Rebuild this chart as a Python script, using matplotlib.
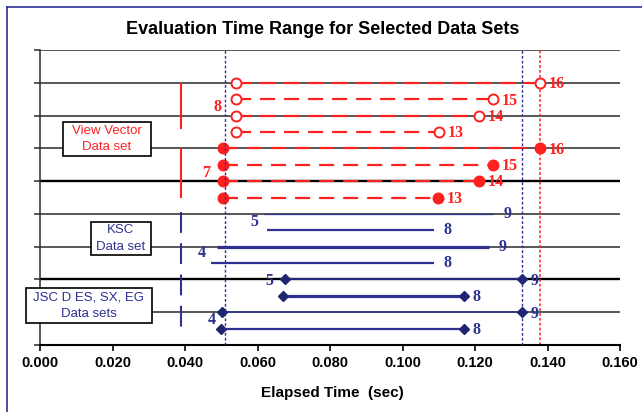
import matplotlib
matplotlib.use("Agg")
import matplotlib.pyplot as plt
from matplotlib.lines import Line2D
from matplotlib.patches import Rectangle

# View Vector data set, open circles (start label 8)
vv_open_rows = [8.0, 7.5, 7.0, 6.5]
vv_open_start = [0.054, 0.054, 0.054, 0.054]
vv_open_end = [0.1378, 0.125, 0.121, 0.110]
vv_open_labels = ["16", "15", "14", "13"]
vv_open_first = "8"

# View Vector data set, filled circles (start label 7)
vv_fill_rows = [6.0, 5.5, 5.0, 4.5]
vv_fill_start = [0.0505, 0.0505, 0.0505, 0.0505]
vv_fill_end = [0.1378, 0.125, 0.121, 0.1098]
vv_fill_labels = ["16", "15", "14", "13"]
vv_fill_first = "7"

# KSC data set
ksc_rows = [4.0, 3.5, 3.0, 2.5]
ksc_start = [0.0617, 0.0625, 0.0487, 0.0473]
ksc_end = [0.1251, 0.1086, 0.1238, 0.1086]
ksc_labels = ["9", "8", "9", "8"]
ksc_first = ["5", "4"]

# JSC DES, SX, EG data sets
jsc_rows = [2.0, 1.5, 1.0, 0.5]
jsc_start = [0.0675, 0.0669, 0.0503, 0.0500]
jsc_end = [0.1331, 0.1171, 0.1331, 0.1171]
jsc_labels = ["9", "8", "9", "8"]
jsc_first = ["5", "4"]

blue_refs = [0.0509, 0.1331]
red_ref = 0.1378
bracket_x = 0.0388
xticks = [0.0, 0.02, 0.04, 0.06, 0.08, 0.10, 0.12, 0.14, 0.16]

RED = "#ff2020"
BLUE = "#2e3192"
GRID = "#2a2a2a"


def main():
    plt.rcParams["lines.scale_dashes"] = False
    sans = "Liberation Sans"
    serif = dict(fontfamily="Liberation Serif", fontweight="bold", fontsize=11.5)

    fig = plt.figure(figsize=(6.42, 4.12), dpi=100)
    W, H = 642.0, 412.0
    ax = fig.add_axes([40 / W, 67 / H, 580 / W, 295 / H])
    ax.set_xlim(0, 0.16)
    ax.set_ylim(0, 9)

    # horizontal grid
    for y in range(1, 10):
        lw = 1.7 if y in (2, 5) else 1.1
        ax.axhline(y, color=GRID if lw < 1.5 else "black", lw=lw, zorder=1)

    ax.set_yticks(range(10))
    ax.set_yticklabels([])
    ax.tick_params(axis="y", direction="out", length=4.3, width=1.1, colors=GRID)
    ax.set_xticks(xticks)
    ax.set_xticklabels(["%.3f" % v for v in xticks], fontfamily=sans,
                       fontweight="bold", fontsize=10.5)
    ax.tick_params(axis="x", direction="out", length=4, width=1.2, pad=4)
    ax.spines["top"].set_visible(False)
    ax.spines["right"].set_visible(False)
    ax.spines["left"].set_linewidth(1.1)
    ax.spines["left"].set_color(GRID)
    ax.spines["bottom"].set_linewidth(1.5)

    # reference time lines
    for x in blue_refs:
        ax.axvline(x, color=BLUE, ls=(0, (2, 1.5)), lw=1.0, zorder=7)
    ax.axvline(red_ref, color=RED, ls=(0, (2, 1.5)), lw=1.1, zorder=2)

    # group brackets
    ax.vlines([bracket_x, bracket_x], [6.6, 4.5], [8.0, 6.0], color=RED, lw=1.5, zorder=3)
    ax.plot([bracket_x, bracket_x], [4.05, 0.4], color=BLUE, lw=1.5,
            ls=(0, (15, 7.5)), zorder=3)

    # view vector rows
    groups = [
        (vv_open_rows, vv_open_start, vv_open_end, vv_open_labels, "white"),
        (vv_fill_rows, vv_fill_start, vv_fill_end, vv_fill_labels, RED),
    ]
    for rows, starts, ends, labels, face in groups:
        for r, s, e, lab in zip(rows, starts, ends, labels):
            ax.plot([s, e], [r, r], color=RED, ls=(0, (10.8, 6.5)), lw=1.6, zorder=3)
            ax.plot([s, e], [r, r], ls="none", marker="o", ms=7.2, mfc=face,
                    mec=RED, mew=1.4, zorder=5)
            ax.annotate(lab, xy=(e, r), xytext=(6.5, -1), textcoords="offset points",
                        ha="left", va="center", color=RED, **serif)
    ax.annotate(vv_open_first, xy=(vv_open_start[0], 7.25), xytext=(-13, 0),
                textcoords="offset points", ha="center", va="center", color=RED, **serif)
    ax.annotate(vv_fill_first, xy=(vv_fill_start[0], 5.25), xytext=(-12, 0),
                textcoords="offset points", ha="center", va="center", color=RED, **serif)

    # KSC rows
    ksc_lw = [0.9, 1.6, 2.3, 1.6]
    for r, s, e, lab, lw in zip(ksc_rows, ksc_start, ksc_end, ksc_labels, ksc_lw):
        ax.plot([s, e], [r, r], color=BLUE, lw=lw, zorder=4, solid_capstyle="butt")
        ax.annotate(lab, xy=(e, r), xytext=(7, 0), textcoords="offset points",
                    ha="left", va="center", color=BLUE, **serif)
    ax.annotate(ksc_first[0], xy=(ksc_start[0], 3.75), xytext=(-7, 0),
                textcoords="offset points", ha="center", va="center", color=BLUE, **serif)
    ax.annotate(ksc_first[1], xy=(ksc_start[3], 2.8), xytext=(-7, 0),
                textcoords="offset points", ha="center", va="center", color=BLUE, **serif)

    # JSC rows
    jsc_lw = [1.2, 2.3, 1.1, 1.6]
    for r, s, e, lab, lw in zip(jsc_rows, jsc_start, jsc_end, jsc_labels, jsc_lw):
        ax.plot([s, e], [r, r], color=BLUE, lw=lw, zorder=4, marker="D", ms=5.5,
                mfc="#1f2570", mec="#1f2570")
        ax.annotate(lab, xy=(e, r), xytext=(6, -1), textcoords="offset points",
                    ha="left", va="center", color=BLUE, **serif)
    ax.annotate(jsc_first[0], xy=(jsc_start[0], 2.0), xytext=(-11, -1),
                textcoords="offset points", ha="center", va="center", color=BLUE, **serif)
    ax.annotate(jsc_first[1], xy=(jsc_start[3], 0.75), xytext=(-7, 0),
                textcoords="offset points", ha="center", va="center", color=BLUE, **serif)

    # group boxes
    boxes = [
        ((63, 122, 88, 34), "View Vector\nData set", RED),
        ((91, 222, 60, 33), "KSC\nData set", BLUE),
        ((26, 288, 126, 35), "JSC D ES, SX, EG\nData sets", BLUE),
    ]
    for (x0, y0, w, h), txt, col in boxes:
        fig.add_artist(Rectangle((x0 / W, (H - y0 - h) / H), w / W, h / H,
                                 transform=fig.transFigure, fc="white", ec="black",
                                 lw=1.2, zorder=3))
        fig.text((x0 + w / 2) / W, (H - y0 - h / 2) / H, txt, ha="center", va="center",
                 color=col, fontfamily=sans, fontsize=9.5, linespacing=1.5, zorder=4)

    # outer frame
    fig.add_artist(Line2D([7 / W, 7 / W], [0, 1 - 7 / H], color=BLUE, lw=1.2))
    fig.add_artist(Line2D([7 / W, 1], [1 - 7 / H, 1 - 7 / H], color=BLUE, lw=1.2))

    fig.text(323 / W, 1 - 29 / H, "Evaluation Time Range for Selected Data Sets",
             ha="center", va="center", fontfamily=sans, fontweight="bold", fontsize=13)
    fig.text(332 / W, 1 - 393 / H, "Elapsed Time  (sec)", ha="center", va="center",
             fontfamily=sans, fontweight="bold", fontsize=11)

    fig.savefig("out.png", dpi=100)


if __name__ == "__main__":
    main()
